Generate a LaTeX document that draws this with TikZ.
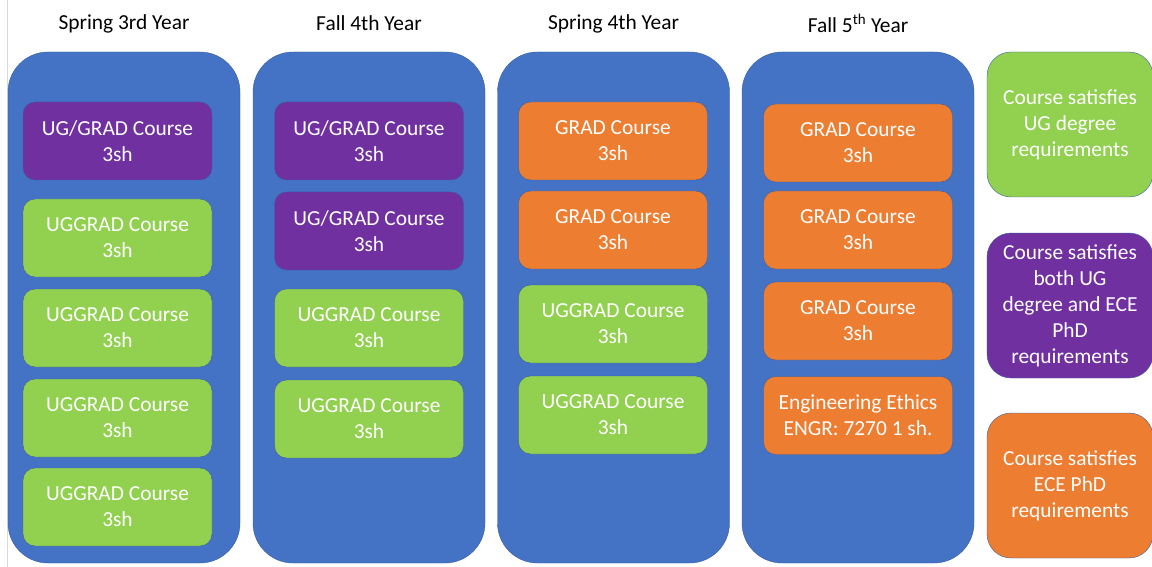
\documentclass[tikz,border=0pt]{standalone}
\usepackage{fontspec}
\setmainfont{Carlito}
\usepackage{tikz}
\usepackage{xcolor}
\definecolor{termblue}{HTML}{4472C4}
\definecolor{edgeblue}{HTML}{3A5FA0}
\definecolor{uggreen}{HTML}{92D050}
\definecolor{bothpurple}{HTML}{7030A0}
\definecolor{phdorange}{HTML}{ED7D31}
\tikzstyle{term} = [rectangle, rounded corners=40pt, draw=edgeblue, fill=termblue, minimum width=232pt, minimum height=511pt]
\tikzstyle{course} = [rectangle, rounded corners=12pt, draw=edgeblue, text=white, align=center, minimum width=189pt, minimum height=78pt, inner sep=0pt]
\tikzstyle{ug} = [course, fill=uggreen]
\tikzstyle{both} = [course, fill=bothpurple]
\tikzstyle{phd} = [course, fill=phdorange]
\tikzstyle{key} = [rectangle, rounded corners=24pt, draw=edgeblue, text=white, align=center, minimum width=166pt, minimum height=145pt, inner sep=0pt]

\begin{document}
\begin{tikzpicture}[x=1pt,y=-1pt,node distance=90pt,font=\fontsize{21.4}{26}\selectfont]
  \useasboundingbox (0,0) rectangle (1152,567);
  \draw[black!15] (7,0) -- (7,567);

  % terms
  \node (h1) at (124,23.5) {Spring 3rd Year};
  \node (h2) at (369,23.5) {Fall 4th Year};
  \node (h3) at (613.5,23.5) {Spring 4th Year};
  \node (h4) at (858,23.5) {Fall 5\textsuperscript{th} Year};
  \node[term] (t1) at (124,307.5) {};
  \node[term] (t2) at (369,307.5) {};
  \node[term] (t3) at (613.5,307.5) {};
  \node[term] (t4) at (858,307.5) {};

  % spring 3rd year
  \node[both] (a1) at (117.5,141) {UG/GRAD Course\\3sh};
  \node[ug] (a2) [below of=a1, node distance=97pt] {UGGRAD Course\\3sh};
  \node[ug] (a3) [below of=a2] {UGGRAD Course\\3sh};
  \node[ug] (a4) [below of=a3] {UGGRAD Course\\3sh};
  \node[ug] (a5) [below of=a4, node distance=89pt] {UGGRAD Course\\3sh};

  % fall 4th year
  \node[both] (b1) at (369,141) {UG/GRAD Course\\3sh};
  \node[both] (b2) [below of=b1] {UG/GRAD Course\\3sh};
  \node[ug] (b3) [below of=b2, node distance=97pt] {UGGRAD Course\\3sh};
  \node[ug] (b4) [below of=b3, node distance=91pt] {UGGRAD Course\\3sh};

  % spring 4th year
  \node[phd] (c1) at (613,141) {GRAD Course\\3sh};
  \node[phd] (c2) [below of=c1, node distance=89pt] {GRAD Course\\3sh};
  \node[ug] (c3) [below of=c2, node distance=94pt] {UGGRAD Course\\3sh};
  \node[ug] (c4) [below of=c3, node distance=91pt] {UGGRAD Course\\3sh};

  % fall 5th year
  \node[phd] (d1) at (858,143) {GRAD Course\\3sh};
  \node[phd] (d2) [below of=d1, node distance=87pt] {GRAD Course\\3sh};
  \node[phd] (d3) [below of=d2, node distance=91pt] {GRAD Course\\3sh};
  \node[phd] (d4) [below of=d3, node distance=94.5pt] {Engineering Ethics\\ENGR: 7270 1 sh.};

  % legend
  \node[key, fill=uggreen] (k1) at (1070,124.5) {Course satisfies\\UG degree\\requirements};
  \node[key, fill=bothpurple] (k2) at (1070,305.5) {Course satisfies\\both UG\\degree and ECE\\PhD\\requirements};
  \node[key, fill=phdorange] (k3) at (1070,485.5) {Course satisfies\\ECE PhD\\requirements};
\end{tikzpicture}
\end{document}
